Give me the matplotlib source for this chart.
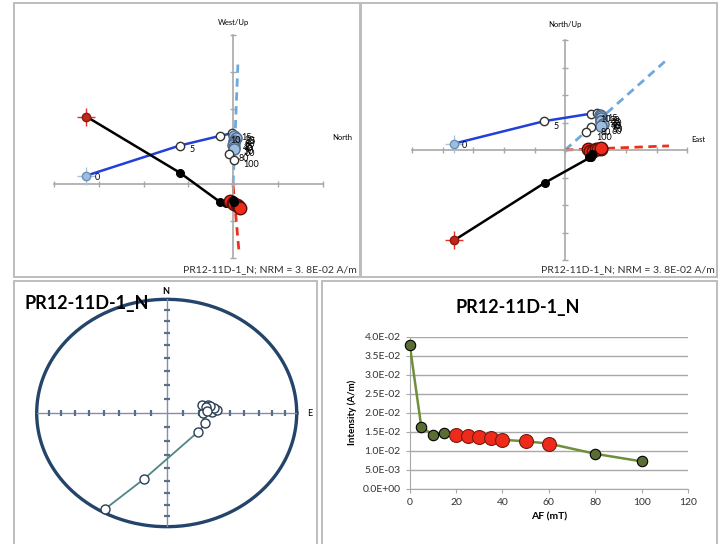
import matplotlib
matplotlib.use("Agg")
import matplotlib.pyplot as plt
import numpy as np
from matplotlib.patches import Rectangle
from matplotlib.ticker import FuncFormatter, MultipleLocator

plt.rcParams["font.family"] = ["Lato", "DejaVu Sans"]

W, H = 718, 544
SAMPLE = "PR12-11D-1_N"
NRM_TEXT = "PR12-11D-1_N; NRM = 3. 8E-02 A/m"

# AF steps (mT); steps 20-60 are the fitted ones
steps = [0, 5, 10, 15, 20, 25, 30, 35, 40, 50, 60, 80, 100]
fit = [False, False, False, False, True, True, True, True, True, True, True, False, False]

# Zijderveld 1: horizontal = North, vertical = West/Up (units of 1E-02 A/m)
z1_north_h = [-3.28, -1.19, -0.29, -0.03, 0.03, 0.06, 0.03, 0.01, 0.00, 0.01, 0.03, -0.09, 0.02]
z1_west = [0.22, 1.03, 1.29, 1.36, 1.29, 1.24, 1.16, 1.10, 1.05, 0.99, 0.94, 0.80, 0.63]
z1_north_v = [-3.28, -1.19, -0.30, -0.15, -0.06, -0.01, 0.03, 0.08, 0.10, 0.12, 0.15, -0.01, 0.01]
z1_up = [1.81, 0.30, -0.48, -0.51, -0.46, -0.51, -0.54, -0.56, -0.59, -0.62, -0.65, -0.43, -0.48]
z1_fit_h = ([0.0, 0.11], [0.0, 3.32])
z1_fit_v = ([0.0, 0.13], [-0.05, -1.81])

# Zijderveld 2: horizontal = East, vertical = North/Up
z2_east_h = [-3.64, -0.68, 0.84, 1.06, 1.13, 1.16, 1.19, 1.19, 1.19, 1.23, 1.19, 0.86, 0.69]
z2_north = [0.23, 1.05, 1.32, 1.36, 1.29, 1.22, 1.15, 1.07, 1.04, 0.96, 0.89, 0.83, 0.65]
z2_east_v = [-3.64, -0.66, 0.84, 0.93, 0.74, 0.80, 0.90, 1.00, 1.09, 1.16, 1.19, 0.87, 0.77]
z2_up = [-3.29, -1.19, -0.26, -0.13, 0.02, -0.02, -0.02, 0.02, 0.04, 0.05, 0.07, -0.16, -0.27]
z2_fit_h = ([0.0, 3.4], [0.0, 3.35])
z2_fit_v = ([0.0, 3.4], [0.0, 0.15])

# equal-area stereonet (projected, unit radius)
st_x = [-0.475, -0.174, 0.243, 0.295, 0.28, 0.27, 0.32, 0.346, 0.385, 0.36, 0.33, 0.30, 0.31]
st_y = [-0.845, -0.58, -0.164, -0.09, 0.0, 0.07, 0.07, 0.011, 0.026, 0.04, 0.06, 0.05, 0.02]
st_tick_inc = [10, 20, 30, 40, 50, 60, 70, 80]

# intensity decay
intensity = [0.0380, 0.0163, 0.0142, 0.0147, 0.0142, 0.0140, 0.0136, 0.0134, 0.0129,
             0.0125, 0.0119, 0.0092, 0.0072]


def frac(x0, y0, x1, y1):
    return [x0 / W, 1 - y1 / H, (x1 - x0) / W, (y1 - y0) / H]


def ptx(x, y):
    return x / W, 1 - y / H


fig = plt.figure(figsize=(W / 100, H / 100), dpi=100)

# panel borders
for x0, y0, x1, y1 in [(14, 3, 360, 277), (361, 3, 717, 277), (14, 281, 317, 560), (322, 281, 717, 560)]:
    fig.add_artist(Rectangle((x0 / W, 1 - y1 / H), (x1 - x0) / W, (y1 - y0) / H,
                             transform=fig.transFigure, fill=False, ec="#bdbdbd", lw=1.4))


def zijderveld(rect, xlim, ylim, hx, hy, vx, vy, fh, fv, xlab, ylab, xlab_pos, ylab_pos, lab_off):
    ax = fig.add_axes(frac(*rect))
    ax.set_xlim(*xlim)
    ax.set_ylim(*ylim)
    for s in ("top", "right"):
        ax.spines[s].set_visible(False)
    for s in ("left", "bottom"):
        ax.spines[s].set_position("zero")
        ax.spines[s].set_color("#a8a8a8")
        ax.spines[s].set_linewidth(1.2)
    ax.xaxis.set_major_locator(MultipleLocator(1))
    ax.yaxis.set_major_locator(MultipleLocator(1))
    ax.tick_params(direction="inout", length=5, width=1, colors="#a8a8a8",
                   labelleft=False, labelbottom=False)
    ax.patch.set_alpha(0)

    ax.plot(fh[0], fh[1], ls=(0, (3, 2)), color="#6fa8dc", lw=2, zorder=2)
    ax.plot(fv[0], fv[1], ls=(0, (3, 2)), color="#e8321e", lw=2, zorder=2)

    ax.plot(hx, hy, color="#2040d8", lw=1.8, zorder=3)
    ax.plot(vx, vy, color="black", lw=1.8, zorder=3)
    for i in range(len(steps)):
        if i == 0:
            ax.plot(hx[i], hy[i], "o", ms=6, mfc="#9dbde0", mec="#6f8fb0", zorder=5, clip_on=False)
            ax.plot(hx[i], hy[i], "+", ms=13, mew=1, color="#a8c4e4", zorder=4, clip_on=False)
            ax.plot(vx[i], vy[i], "o", ms=6, mfc="#c0281a", mec="#8a1a10", zorder=5, clip_on=False)
            ax.plot(vx[i], vy[i], "+", ms=13, mew=1, color="#e8321e", zorder=4, clip_on=False)
        elif fit[i]:
            ax.plot(hx[i], hy[i], "o", ms=8, mfc="#9dbde0", mec="#506a88", zorder=5)
            ax.plot(vx[i], vy[i], "o", ms=9, mfc="#ee2b1a", mec="#5a1008", zorder=5)
        else:
            ax.plot(hx[i], hy[i], "o", ms=6, mfc="white", mec="#333333", zorder=5)
            ax.plot(vx[i], vy[i], "o", ms=5.5, color="black", zorder=5)
        if i > 0:
            ax.annotate(str(steps[i]), (hx[i], hy[i]), xytext=lab_off, textcoords="offset points",
                        fontsize=6.5, va="center", zorder=6)
    ax.annotate("0", (hx[0], hy[0]), xytext=(6, -1), textcoords="offset points",
                fontsize=6.5, va="center", zorder=6)
    fig.text(*ptx(*xlab_pos), xlab, fontsize=5.5, ha="center", va="center")
    fig.text(*ptx(*ylab_pos), ylab, fontsize=5.5, ha="center", va="center")
    return ax


zijderveld((54, 35, 322.7, 258.3), (-4, 2), (-2, 4), z1_north_h, z1_west, z1_north_v, z1_up,
           z1_fit_h, z1_fit_v, "North", "West/Up", (342, 137), (233, 22), (7, -3))
fig.text(*ptx(357, 270), NRM_TEXT, fontsize=7.5, ha="right", va="center", color="#333333")

zijderveld((412.3, 40, 687.3, 260), (-5, 4), (-4, 4), z2_east_h, z2_north, z2_east_v, z2_up,
           z2_fit_h, z2_fit_v, "East", "North/Up", (698, 140), (565, 24), (7, -4))
fig.text(*ptx(715, 270), NRM_TEXT, fontsize=7.5, ha="right", va="center", color="#333333")

# stereonet
ax3 = fig.add_axes(frac(36.7, 299.3, 296.7, 526.7))
ax3.set_xlim(-1, 1)
ax3.set_ylim(-1, 1)
ax3.axis("off")
th = np.linspace(0, 2 * np.pi, 361)
ax3.plot(np.cos(th), np.sin(th), color="#24446a", lw=2.4, clip_on=False)
ax3.plot([-1, 1], [0, 0], color="#8090a6", lw=1)
ax3.plot([0, 0], [-1, 1], color="#8090a6", lw=1)
r_ticks = np.sqrt(2) * np.sin(np.radians(90 - np.array(st_tick_inc)) / 2)
r_all = np.concatenate([r_ticks, -r_ticks])
ax3.plot(r_all, np.zeros_like(r_all), "|", ms=5, mew=1.6, color="#5a6e88")
ax3.plot(np.zeros_like(r_all), r_all, "_", ms=5, mew=1.6, color="#5a6e88")
ax3.plot(st_x, st_y, color="#4f8585", lw=1.3, zorder=3)
ax3.plot(st_x, st_y, "o", ms=6.5, mfc="white", mec="#2a3f55", mew=1, zorder=4)
fig.text(*ptx(165.7, 292), "N", fontsize=6.5, fontweight="bold", ha="center", va="center")
fig.text(*ptx(310, 413), "E", fontsize=6.5, ha="center", va="center")
fig.text(*ptx(25, 304), SAMPLE, fontsize=13, fontweight="bold", ha="left", va="center")

# intensity decay
ax4 = fig.add_axes(frac(409.7, 337, 688, 488.7))
ax4.set_xlim(0, 120)
ax4.set_ylim(0, 0.04)
ax4.yaxis.set_major_locator(MultipleLocator(0.005))
ax4.xaxis.set_major_locator(MultipleLocator(20))
ax4.yaxis.set_major_formatter(FuncFormatter(lambda v, p: "{:.1E}".format(v)))
ax4.grid(axis="y", color="#a8a8a8", lw=1)
ax4.set_axisbelow(True)
for s in ("top", "right"):
    ax4.spines[s].set_visible(False)
for s in ("left", "bottom"):
    ax4.spines[s].set_color("#a8a8a8")
ax4.tick_params(length=3, color="#a8a8a8", labelsize=7.5, labelcolor="#333333")
ax4.plot(steps, intensity, color="#6f8f3a", lw=1.8, zorder=3)
for s, v, f in zip(steps, intensity, fit):
    if f:
        ax4.plot(s, v, "o", ms=10, mfc="#ee2b1a", mec="#7a1a10", mew=0.8, zorder=4)
    else:
        ax4.plot(s, v, "o", ms=7.5, mfc="#5a6e34", mec="black", mew=0.8, zorder=4, clip_on=False)
ax4.set_ylabel("Intensity (A/m)", fontsize=7, fontweight="bold", labelpad=4)
ax4.set_xlabel("AF (mT)", fontsize=7.5, fontweight="bold", labelpad=4)
fig.text(*ptx(518, 308), SAMPLE, fontsize=13, fontweight="bold", ha="center", va="center")

fig.savefig("out.png", dpi=100)
